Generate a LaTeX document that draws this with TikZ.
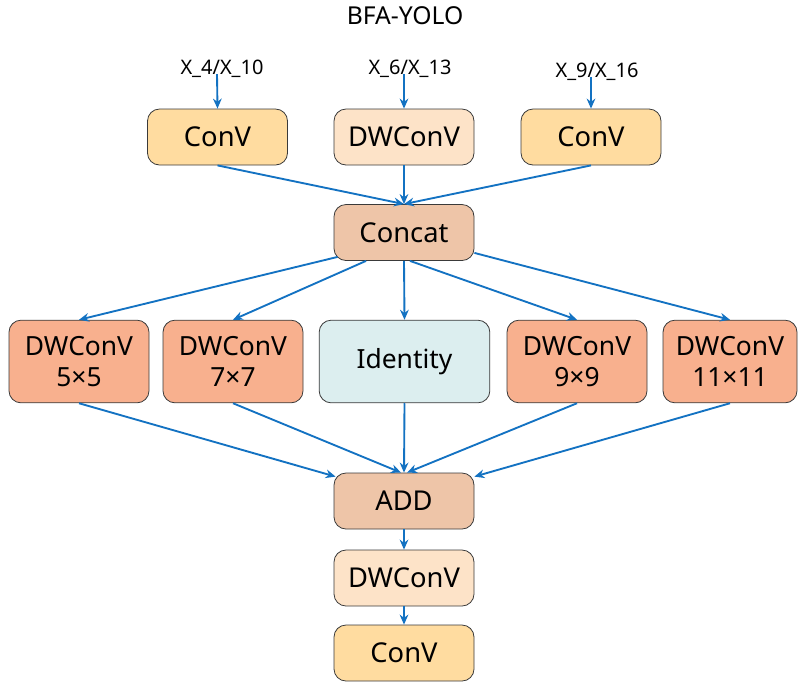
\documentclass[tikz,border=0pt]{standalone}
\usepackage{fontspec}
\setmainfont{Noto Sans}
\usetikzlibrary{arrows.meta,calc}
\definecolor{conv}{HTML}{FFDCA0}
\definecolor{dwtop}{HTML}{FDE3C8}
\definecolor{concatc}{HTML}{EEC5A8}
\definecolor{dwrow}{HTML}{F8B08E}
\definecolor{ident}{HTML}{DCEEEF}
\definecolor{arr}{HTML}{1372C2}
\definecolor{edge}{HTML}{3A3A3A}
\tikzset{
  box/.style={draw=edge, line width=0.6pt, rounded corners=9pt, minimum width=105pt, minimum height=42pt, inner sep=0pt, align=center, font=\fontsize{20.5}{23}\selectfont},
  rowbox/.style={box, minimum height=62pt, font=\fontsize{19.8}{23}\selectfont},
  lab/.style={font=\fontsize{15}{17}\selectfont, inner sep=0pt},
  link/.style={draw=arr, line width=1.4pt, -{Stealth[length=7.5pt,width=6.5pt]}}
}
\begin{document}
\begin{tikzpicture}[x=0.75pt,y=-0.75pt]
\useasboundingbox (0,0) rectangle (798,687);
\node[font=\fontsize{18.5}{20}\selectfont, inner sep=0pt] (title) at (405,16) {BFA-YOLO};
\node[lab] (in1) at (222,69) {X\_4/X\_10};
\node[lab] (in2) at (410,69) {X\_6/X\_13};
\node[lab] (in3) at (597,72) {X\_9/X\_16};
\node[box, fill=conv] (c1) at (217.5,137) {ConV};
\node[box, fill=dwtop] (dw1) at (404,137) {DWConV};
\node[box, fill=conv] (c3) at (591,137) {ConV};
\node[box, fill=concatc] (cat) at (404,232.5) {Concat};
\node[rowbox, fill=dwrow] (k5) at (79,361.5) {DWConV\\5×5};
\node[rowbox, fill=dwrow] (k7) at (233,361.5) {DWConV\\7×7};
\node[rowbox, fill=ident, minimum width=128pt] (id) at (404.5,361.5) {Identity};
\node[rowbox, fill=dwrow] (k9) at (577,361.5) {DWConV\\9×9};
\node[rowbox, fill=dwrow, minimum width=100.5pt] (k11) at (730,361.5) {DWConV\\11×11};
\node[box, fill=concatc] (add) at (404,501) {ADD};
\node[box, fill=dwtop] (dw2) at (404,578) {DWConV};
\node[box, fill=conv] (c4) at (404,653) {ConV};
% inputs
\draw[link] ($(in1.south)+(-5,-4)$) -- (c1.north);
\draw[link] ($(in2.south)+(-6,-4)$) -- (dw1.north);
\draw[link] ($(in3.south)+(-6,-4)$) -- (c3.north);
% to concat
\draw[link] (c1.south) -- (cat.north);
\draw[link] (dw1.south) -- (cat.north);
\draw[link] (c3.south) -- (cat.north);
% concat to row
\draw[link] ($(cat.south west)+(4,-4)$) -- (k5.north);
\draw[link] ($(cat.south)+(-38,0)$) -- (k7.north);
\draw[link] (cat.south) -- (id.north);
\draw[link] ($(cat.south)+(6,0)$) -- (k9.north);
\draw[link] ($(cat.south east)+(0,-8)$) -- (k11.north);
% row to add
\draw[link] (k5.south) -- ($(add.north west)+(2,4)$);
\draw[link] (k7.south) -- ($(add.north)+(-3,0)$);
\draw[link] (id.south) -- (add.north);
\draw[link] (k9.south) -- ($(add.north)+(3,0)$);
\draw[link] (k11.south) -- ($(add.north east)+(0,4)$);
% tail
\draw[link] (add.south) -- (dw2.north);
\draw[link] (dw2.south) -- (c4.north);
\end{tikzpicture}
\end{document}
